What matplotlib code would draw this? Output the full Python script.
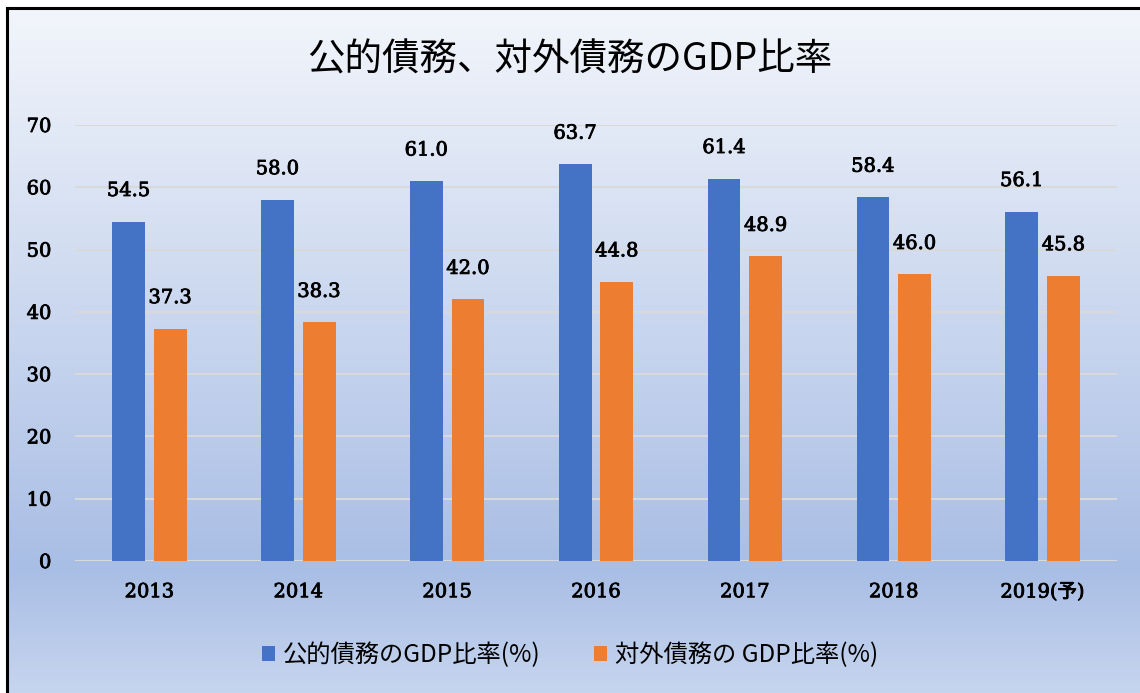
import numpy as np
import matplotlib.pyplot as plt
import matplotlib.patheffects as pe
from matplotlib.colors import LinearSegmentedColormap

# データ
years = ['2013', '2014', '2015', '2016', '2017', '2018', '2019(予)']
public_debt = [54.5, 58.0, 61.0, 63.7, 61.4, 58.4, 56.1]
external_debt = [37.3, 38.3, 42.0, 44.8, 48.9, 46.0, 45.8]
labels = ['公的債務のGDP比率(%)', '対外債務の GDP比率(%)']

serif = ['DejaVu Serif', 'Noto Sans CJK JP']
cjk = ['Noto Sans CJK JP', 'DejaVu Sans']
# 文字を少し太く見せる
thick = [pe.withStroke(linewidth=0.6, foreground='black')]

fig = plt.figure(figsize=(11.4, 6.93), dpi=100)
fig.patch.set_facecolor('white')

# 背景のグラデーション
bg = fig.add_axes([7 / 1140, 0, 1 - 7 / 1140, 1 - 8 / 693], zorder=0)
cmap = LinearSegmentedColormap.from_list(
    'bg', [(0.0, '#f2f5fb'), (0.82, '#a9bee5'), (1.0, '#c6d5ef')])
grad = np.linspace(0, 1, 256).reshape(-1, 1)
bg.imshow(grad, aspect='auto', cmap=cmap, extent=[0, 1, 0, 1], origin='upper')
bg.set_xticks([])
bg.set_yticks([])
for side in ['right', 'bottom']:
    bg.spines[side].set_visible(False)
for side in ['top', 'left']:
    bg.spines[side].set_linewidth(2.2)
    bg.spines[side].set_color('black')

ax = fig.add_axes([75 / 1140, 1 - 561 / 693, (1117 - 75) / 1140, (561 - 125) / 693], zorder=1)
ax.set_facecolor('none')

x = np.arange(len(years))
w = 0.22
b1 = ax.bar(x - 0.14, public_debt, w, color='#4472c4', label=labels[0], zorder=3)
b2 = ax.bar(x + 0.14, external_debt, w, color='#ed7d31', label=labels[1], zorder=3)

for bars, vals in [(b1, public_debt), (b2, external_debt)]:
    for r, v in zip(bars, vals):
        ax.annotate(f'{v:.1f}', (r.get_x() + r.get_width() / 2, v),
                    xytext=(0, 22), textcoords='offset points',
                    ha='center', va='center', fontsize=14, family=serif,
                    path_effects=thick)

ax.set_xlim(-0.5, len(years) - 0.5)
ax.set_ylim(0, 70)
ax.set_yticks(range(0, 71, 10))
ax.yaxis.grid(True, color='#d9d9d9', linewidth=1.5, zorder=0)
ax.set_axisbelow(True)
for s in ax.spines.values():
    s.set_visible(False)
ax.tick_params(length=0)
ax.tick_params(axis='y', pad=17)
ax.tick_params(axis='x', pad=16)
ax.set_xticks(x)
ax.set_xticklabels(years, fontsize=14, family=serif)
for t in ax.get_xticklabels() + ax.get_yticklabels():
    t.set_fontsize(14)
    t.set_family(serif)
    t.set_path_effects(thick)

fig.text(0.5, 1 - 60 / 693, '公的債務、対外債務のGDP比率', ha='center', va='center',
         fontsize=27, family=cjk)

fig.legend(handles=[b1, b2], labels=labels, loc='center', bbox_to_anchor=(0.5, 1 - 655 / 693),
           ncol=2, frameon=False, prop={'family': cjk, 'size': 17.5},
           handlelength=0.55, handleheight=0.55, handletextpad=0.3, columnspacing=2.2)

fig.savefig('out.png', dpi=100)
